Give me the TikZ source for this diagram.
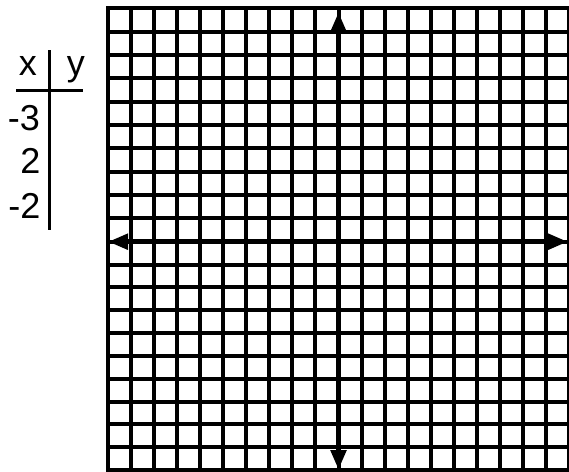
\documentclass[tikz,border=0pt]{standalone}
\usepackage{fontspec}
\setmainfont{Liberation Sans}
\usetikzlibrary{arrows.meta}
\begin{document}
\begin{tikzpicture}[x=1pt,y=-1pt,
  gridline/.style={line width=4pt,black},
  axisline/.style={line width=5.5pt,black,{Triangle[length=20pt,width=15pt]}-{Triangle[length=20pt,width=15pt]}},
  tabline/.style={line width=3pt,black},
  lbl/.style={font=\fontsize{36}{38}\selectfont,inner sep=0pt,anchor=base east}]
\useasboundingbox (0,0) rectangle (569,471);
\fill[white] (0,0) rectangle (569,471);
% grid
\begin{scope}
\clip (0,0) rectangle (569,471);
\foreach \i in {0,...,20} {
  \draw[gridline] ({108+\i*23.05},8.3) -- ({108+\i*23.05},475);
}
\foreach \j in {0,...,10} {
  \draw[gridline] (106,{8.3+\j*23.34}) -- (575,{8.3+\j*23.34});
}
\foreach \j in {11,...,20} {
  \draw[gridline] (106,{241.7+(\j-10)*22.83}) -- (575,{241.7+(\j-10)*22.83});
}
\end{scope}
% axes
\coordinate (ytop) at (338.5,12);
\coordinate (ybot) at (338.5,470);
\coordinate (xl) at (108,241.7);
\coordinate (xr) at (568,241.7);
\draw[axisline] (ybot) -- (ytop);
\draw[axisline] (xl) -- (xr);
% table
\coordinate (vt) at (49.5,50);
\coordinate (vb) at (49.5,230);
\coordinate (hl) at (16,90.7);
\coordinate (hr) at (83,90.7);
\draw[tabline] (vt) -- (vb);
\draw[tabline] (hl) -- (hr);
\node[lbl] (hx) at (37,75) {x};
\node[lbl] (hy) at (85,75) {y};
\node[lbl] (v1) at (40,130) {-3};
\node[lbl] (v2) at (40.5,173.3) {2};
\node[lbl] (v3) at (40.5,218) {-2};
\end{tikzpicture}
\end{document}
